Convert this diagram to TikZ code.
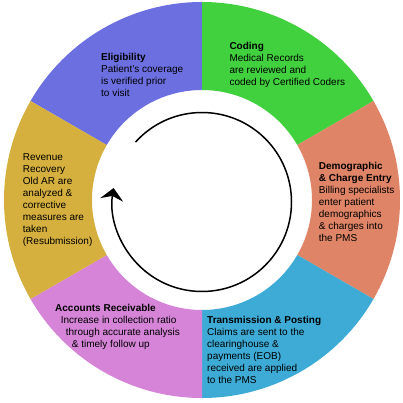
\documentclass[tikz,border=0pt]{standalone}
\usepackage{fontspec}
\setmainfont{Liberation Sans}
\usetikzlibrary{arrows.meta}
\definecolor{celig}{RGB}{107,111,223}
\definecolor{ccode}{RGB}{65,209,63}
\definecolor{cdemo}{RGB}{223,132,102}
\definecolor{ctran}{RGB}{61,171,214}
\definecolor{caccr}{RGB}{213,132,216}
\definecolor{creve}{RGB}{213,176,62}
\tikzset{
  seglabel/.style={anchor=base west, inner sep=0pt, align=left, text=black,
    font=\fontsize{10}{12}\selectfont},
}
\newcommand{\ringseg}[3]{%
  \fill[#1] ([shift={(#2:198)}]ctr) arc[start angle=#2, end angle=#3, radius=198]
    -- ([shift={(#3:110)}]ctr) arc[start angle=#3, end angle=#2, radius=110] -- cycle;}
\begin{document}
\begin{tikzpicture}[x=1pt,y=1pt]
\fill[white] (0,0) rectangle (403,402);
\useasboundingbox (0,0) rectangle (403,402);
\coordinate (ctr) at (202,202);
\coordinate (actr) at (202,200);
\ringseg{celig}{90}{150}
\ringseg{ccode}{30}{90}
\ringseg{cdemo}{-30}{30}
\ringseg{ctran}{-90}{-30}
\ringseg{caccr}{-150}{-90}
\ringseg{creve}{150}{210}
% cycle arrow
\draw[line width=1.5pt, -{Stealth[length=12pt, width=23pt, inset=4pt]}]
  ([shift={(138:89.5)}]actr) arc[start angle=138, end angle=-189, radius=89.5];
% labels (base anchor = baseline of last line)
\node[seglabel] (elig) at (101,305.5) {\textbf{Eligibility}\\Patient’s coverage\\is verified prior\\to visit};
\node[seglabel] (code) at (229.3,316.8) {\textbf{Coding}\\Medical Records\\are reviewed and\\coded by Certified Coders};
\node[seglabel] (demo) at (318.7,160.8) {\textbf{Demographic}\\\textbf{\& Charge Entry}\\Billing specialists\\enter patient\\demographics\\\& charges into\\the PMS};
\node[seglabel] (tran) at (207,18.2) {\textbf{Transmission \& Posting}\\Claims are sent to the\\clearinghouse \&\\payments (EOB)\\received are applied\\to the PMS};
\node[seglabel] (accr) at (55,54.8) {\textbf{Accounts Receivable}\\\hspace*{5.7pt}Increase in collection ratio\\\hspace*{10.7pt}through accurate analysis\\\hspace*{16.7pt}\& timely follow up};
\node[seglabel] (reve) at (22.7,157.8) {Revenue\\Recovery\\Old AR are\\analyzed \&\\corrective\\measures are\\taken\\(Resubmission)};
\end{tikzpicture}
\end{document}
